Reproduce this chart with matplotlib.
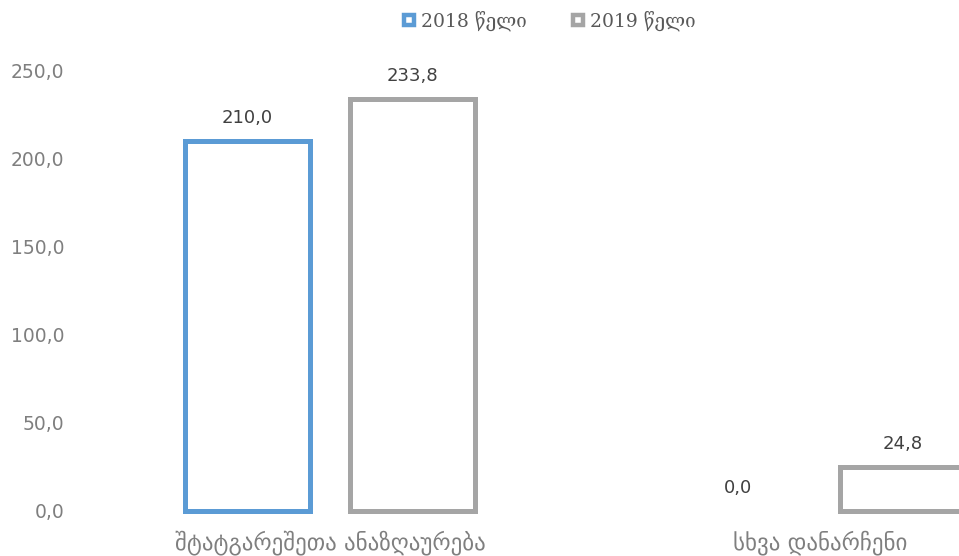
import matplotlib.pyplot as plt
from matplotlib.lines import Line2D
import numpy as np

categories = ['შტატგარეშეთა ანაზღაურება', 'სხვა დანარჩენი']
series_names = ['2018 წელი', '2019 წელი']
values_2018 = [210.0, 0.0]
values_2019 = [233.8, 24.8]
yticks = [0, 50, 100, 150, 200, 250]

colors = ['#5B9BD5', '#A5A5A5']

def fmt(v):
    return ('%.1f' % v).replace('.', ',')

plt.rcParams['font.family'] = ['DejaVu Sans']
fig = plt.figure(figsize=(9.59, 5.56), dpi=100)
# axes run past the right edge, like the cropped original
ax = fig.add_axes([85 / 959, 45 / 556, 980 / 959, 441 / 556])

x = np.arange(len(categories))
w = 0.255
off = 0.168
for vals, c, dx in [(values_2018, colors[0], -off), (values_2019, colors[1], off)]:
    for xi, v in zip(x, vals):
        lw = 3.6 if v > 0 else 0
        ax.bar(xi + dx, v, width=w, facecolor='white', edgecolor=c,
               linewidth=lw, clip_on=False)
        ax.annotate(fmt(v), (xi + dx, v), xytext=(0, 10), textcoords='offset points',
                    ha='center', va='bottom', fontsize=13, color='#404040',
                    annotation_clip=False)

ax.set_xlim(-0.5, 1.5)
ax.set_ylim(0, 250)
ax.set_yticks(yticks)
ax.set_yticklabels([fmt(t) for t in yticks], fontsize=13.5, color='#7F7F7F')
ax.set_xticks(x)
ax.set_xticklabels(categories, fontsize=16.5, color='#7F7F7F')
ax.tick_params(length=0)
ax.tick_params(axis='y', pad=15)
ax.tick_params(axis='x', pad=14)
for s in ax.spines.values():
    s.set_visible(False)

handles = [Line2D([], [], marker='s', linestyle='none', markersize=7.5,
                  markerfacecolor='white', markeredgecolor=c, markeredgewidth=3.2)
           for c in colors]
fig.legend(handles, series_names, loc='center', bbox_to_anchor=(0.566, 0.963),
           ncol=2, frameon=False, handletextpad=-0.35, columnspacing=1.7,
           prop={'family': ['DejaVu Serif', 'DejaVu Sans'], 'size': 13.5},
           labelcolor='#595959')

fig.savefig('out.png', dpi=100)
